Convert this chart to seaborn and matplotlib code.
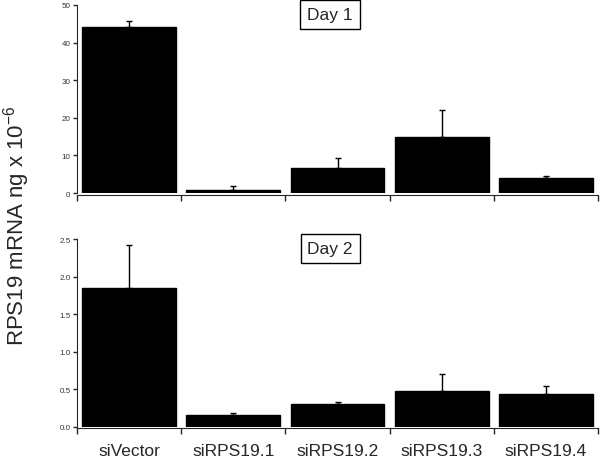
import numpy as np
import pandas as pd
import seaborn as sns
import matplotlib.pyplot as plt
from matplotlib.ticker import FixedLocator, FormatStrFormatter

groups = ["siVector", "siRPS19.1", "siRPS19.2", "siRPS19.3", "siRPS19.4"]

day1_mean = [44.2, 0.7, 6.8, 14.9, 4.1]
day1_err = [1.6, 1.25, 2.6, 7.3, 0.4]

day2_mean = [1.85, 0.16, 0.31, 0.48, 0.44]
day2_err = [0.57, 0.02, 0.015, 0.22, 0.11]

panels = [
    ("Day 1", day1_mean, day1_err, [0, 10, 20, 30, 40, 50], "%d"),
    ("Day 2", day2_mean, day2_err, [0.0, 0.5, 1.0, 1.5, 2.0, 2.5], "%.1f"),
]

sns.set_style("ticks")
plt.rcParams["font.family"] = ["Liberation Sans", "DejaVu Sans"]
plt.rcParams["mathtext.default"] = "regular"

fig = plt.figure(figsize=(6, 4.6), dpi=100)
ax_top = fig.add_axes([0.128, 0.578, 0.869, 0.409])
ax_bot = fig.add_axes([0.128, 0.070, 0.869, 0.408])

for ax, (title, means, errs, yticks, fmt) in zip([ax_top, ax_bot], panels):
    df = pd.DataFrame({"group": groups, "value": means})
    sns.barplot(data=df, x="group", y="value", color="black", width=0.9,
                saturation=1, ax=ax, errorbar=None)
    for p in ax.patches:
        p.set_edgecolor("black")
    ax.errorbar(np.arange(len(groups)), means, yerr=[np.zeros(len(errs)), errs],
                fmt="none", ecolor="black", elinewidth=1, capsize=2, capthick=1)

    ax.set_xlim(-0.5, 4.5)
    ax.set_ylim(yticks[0], yticks[-1])
    ax.yaxis.set_major_locator(FixedLocator(yticks))
    ax.yaxis.set_major_formatter(FormatStrFormatter(fmt))
    ax.tick_params(axis="y", labelsize=5.8, length=3, width=1, pad=1.5,
                   labelcolor="#333333")

    # category boundary ticks on the x axis
    ax.set_xticks(np.arange(-0.5, 5, 1), minor=True)
    ax.tick_params(axis="x", which="minor", length=4.5, width=1)
    ax.tick_params(axis="x", which="major", length=0, labelsize=12.5, pad=11)

    sns.despine(ax=ax)
    ax.spines["bottom"].set_position(("outward", 1))
    ax.set_xlabel("")
    ax.set_ylabel("")

    ax.text(0.486, 0.95, title, transform=ax.transAxes, ha="center", va="center",
            fontsize=12.5,
            bbox=dict(boxstyle="square,pad=0.4", facecolor="white",
                      edgecolor="black", linewidth=1))

ax_top.set_xticklabels([])

fig.text(0.027, 0.51, "RPS19 mRNA ng x 10$^{-6}$", rotation=90,
         ha="center", va="center", fontsize=16)

fig.savefig("out.png", dpi=100)
